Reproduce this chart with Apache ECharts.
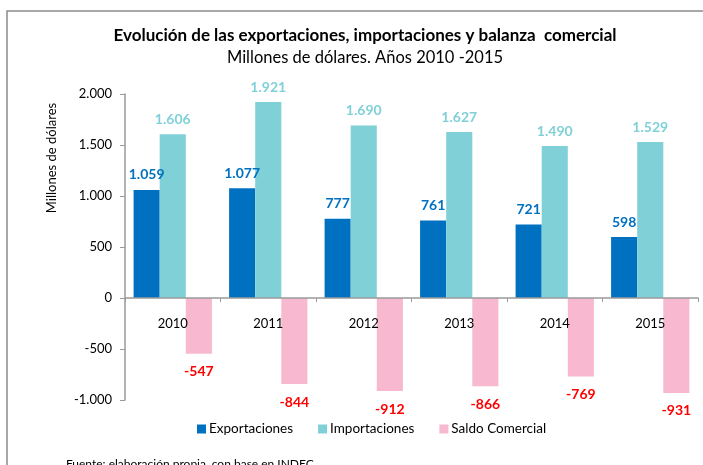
<!DOCTYPE html>
<html>
<head>
<meta charset="utf-8">
<script src="https://cdn.jsdelivr.net/npm/echarts@6/dist/echarts.min.js"></script>
<style>
  html, body { margin: 0; padding: 0; background: #fff; }
  #chart { width: 703px; height: 465px; }
</style>
</head>
<body>
<div id="chart"></div>
<script>
// datos
var years = ['2010', '2011', '2012', '2013', '2014', '2015'];
var exportaciones = [1059, 1077, 777, 761, 721, 598];
var importaciones = [1606, 1921, 1690, 1627, 1490, 1529];
var saldo = [-547, -844, -912, -866, -769, -931];
var yTicks = [-1000, 2000, 500]; // min, max, interval

var FONT = 'Lato, "Open Sans", sans-serif';

// formato 1.059
function fmt(v) {
  var s = Math.abs(v).toString().replace(/\B(?=(\d{3})+(?!\d))/g, '.');
  return (v < 0 ? '-' : '') + s;
}

var chart = echarts.init(document.getElementById('chart'));

chart.setOption({
  animation: false,
  textStyle: { fontFamily: FONT },
  title: {
    text: 'Evolución de las exportaciones, importaciones y balanza  comercial',
    subtext: 'Millones de dólares. Años 2010 -2015',
    left: 360,
    textAlign: 'center',
    top: 22,
    itemGap: 5,
    textStyle: { fontSize: 17, fontWeight: 'bold', color: '#000', fontFamily: FONT },
    subtextStyle: { fontSize: 16.5, color: '#000', fontFamily: FONT }
  },
  legend: {
    left: 192,
    top: 417,
    itemWidth: 9,
    itemHeight: 9,
    itemGap: 25,
    icon: 'rect',
    textStyle: { fontSize: 13.5, color: '#000', padding: [0, 0, 0, -2] },
    data: ['Exportaciones', 'Importaciones', 'Saldo Comercial']
  },
  grid: { left: 125, right: 5, top: 94, bottom: 65 },
  xAxis: {
    type: 'category',
    data: years,
    axisLine: { onZero: true, lineStyle: { color: '#9a9a9a', width: 1.5 } },
    axisTick: { show: true, length: 4, lineStyle: { color: '#9a9a9a' } },
    axisLabel: { fontSize: 13, color: '#000', margin: -83 },
    z: 5
  },
  yAxis: {
    type: 'value',
    min: yTicks[0],
    max: yTicks[1],
    interval: yTicks[2],
    axisLine: { show: true, lineStyle: { color: '#9a9a9a', width: 1.5 } },
    axisTick: { show: true, length: 5, lineStyle: { color: '#9a9a9a' } },
    splitLine: { show: false },
    axisLabel: { fontSize: 13, color: '#000', margin: 13, formatter: fmt }
  },
  graphic: [
    {
      type: 'rect',
      shape: { x: 7, y: 11, width: 760, height: 520 },
      style: { fill: 'none', stroke: '#8c8c8c', lineWidth: 1.5 },
      silent: true
    },
    {
      type: 'text',
      x: 52,
      y: 158,
      rotation: Math.PI / 2,
      style: {
        text: 'Millones de dólares',
        fontSize: 13,
        fontFamily: FONT,
        fill: '#000',
        align: 'center',
        verticalAlign: 'middle'
      }
    },
    {
      type: 'text',
      left: 66,
      top: 458,
      style: {
        text: 'Fuente: elaboración propia, con base en INDEC',
        fontSize: 12,
        fontFamily: FONT,
        fill: '#000'
      }
    }
  ],
  series: [
    {
      name: 'Exportaciones',
      type: 'bar',
      data: exportaciones,
      barGap: '0%',
      barCategoryGap: '18%',
      itemStyle: { color: '#0070c0' },
      label: {
        show: true, position: 'top', distance: 8,
        color: '#0070c0', fontWeight: 'bold', fontSize: 14,
        formatter: function (p) { return fmt(p.value); }
      }
    },
    {
      name: 'Importaciones',
      type: 'bar',
      data: importaciones,
      itemStyle: { color: '#80d0d8' },
      label: {
        show: true, position: 'top', distance: 8,
        color: '#80d0d8', fontWeight: 'bold', fontSize: 14,
        formatter: function (p) { return fmt(p.value); }
      }
    },
    {
      name: 'Saldo Comercial',
      type: 'bar',
      data: saldo,
      itemStyle: { color: '#f7b8d0' },
      label: {
        show: true, position: 'bottom', distance: 11,
        color: '#ff0000', fontWeight: 'bold', fontSize: 14,
        formatter: function (p) { return fmt(p.value); }
      }
    }
  ]
});
</script>
</body>
</html>
